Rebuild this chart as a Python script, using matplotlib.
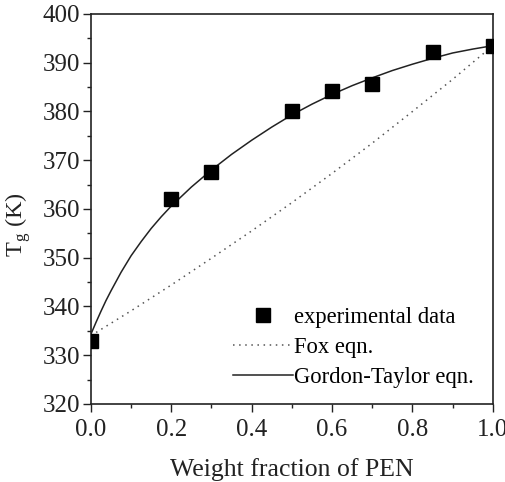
import matplotlib
matplotlib.use("Agg")
import matplotlib.pyplot as plt
from matplotlib.ticker import MultipleLocator

plt.rcParams['font.family'] = ['Liberation Serif', 'DejaVu Serif']
plt.rcParams['mathtext.fontset'] = 'custom'
plt.rcParams['mathtext.rm'] = 'Liberation Serif'

# experimental data
w_exp = [0.0, 0.2, 0.3, 0.5, 0.6, 0.7, 0.85, 1.0]
tg_exp = [333.0, 362.0, 367.6, 380.0, 384.2, 385.6, 392.2, 393.5]

# Fox equation curve
w_fox = [0.0, 0.1, 0.2, 0.3, 0.4, 0.5, 0.6, 0.7, 0.8, 0.9, 1.0]
tg_fox = [334.0, 339.1, 344.4, 349.9, 355.5, 361.3, 367.3, 373.5, 380.0, 386.6, 393.5]

# Gordon-Taylor equation curve
w_gt = [0.0, 0.0125, 0.025, 0.0375, 0.05, 0.075, 0.1, 0.125, 0.15, 0.175, 0.2, 0.25,
        0.3, 0.35, 0.4, 0.45, 0.5, 0.55, 0.6, 0.65, 0.7, 0.75, 0.8, 0.85, 0.9, 0.95, 1.0]
tg_gt = [334.3, 336.7, 339.0, 341.2, 343.2, 347.0, 350.4, 353.3, 356.0, 358.4, 360.6, 364.5,
         368.0, 371.2, 374.1, 376.8, 379.3, 381.5, 383.5, 385.3, 386.9, 388.4, 389.7, 390.9,
         392.0, 392.8, 393.5]

fig = plt.figure(figsize=(5.05, 4.82), dpi=100)
ax = fig.add_axes([0.180, 0.162, 0.796, 0.809])

ax.plot(w_exp, tg_exp, 's', color='black', markersize=9.5, label='experimental data', zorder=3)
ax.plot(w_fox, tg_fox, linestyle=(0, (1, 3)), color='#555555', linewidth=1.1, label='Fox eqn.')
ax.plot(w_gt, tg_gt, '-', color='#222222', linewidth=1.1, label='Gordon-Taylor eqn.')

ax.set_xlim(0, 1.0)
ax.set_ylim(320, 400)
ax.xaxis.set_major_locator(MultipleLocator(0.2))
ax.xaxis.set_minor_locator(MultipleLocator(0.1))
ax.yaxis.set_major_locator(MultipleLocator(10))
ax.yaxis.set_minor_locator(MultipleLocator(5))
ax.set_xticklabels([f'{v:.1f}' for v in ax.get_xticks()])
ax.tick_params(which='major', direction='out', length=6, width=1, labelsize=18, pad=2, colors='#222222')
ax.tick_params(axis='x', which='major', pad=5)
ax.tick_params(which='minor', direction='out', length=3, width=1, colors='#222222')
for s in ax.spines.values():
    s.set_linewidth(1.2)
    s.set_color('#222222')

ax.set_xlabel('Weight fraction of PEN', fontsize=18.5, labelpad=12, color='#222222')
ax.set_ylabel(r'T$_\mathregular{g}$ (K)', fontsize=17.5, color='#222222')
ax.yaxis.set_label_coords(-0.145, 0.46)

leg = ax.legend(loc='lower right', bbox_to_anchor=(0.975, 0.018), frameon=False, fontsize=16.3,
                handlelength=2.65, handletextpad=0.05, labelspacing=0.4, borderaxespad=0)

fig.savefig('out.png', dpi=100)
